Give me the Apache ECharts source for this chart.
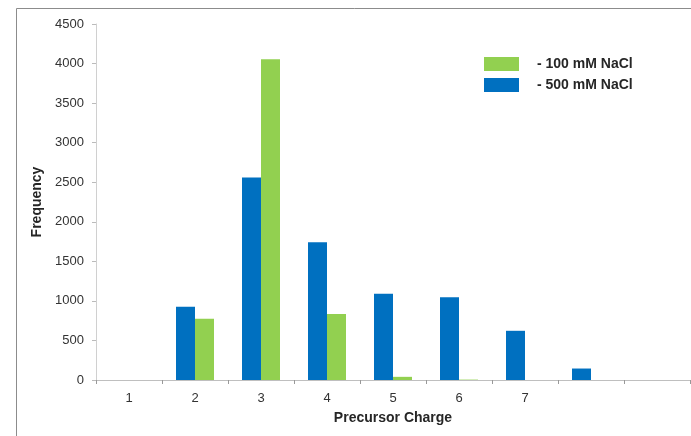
<!DOCTYPE html>
<html>
<head>
<meta charset="utf-8">
<script src="https://cdn.jsdelivr.net/npm/echarts@6/dist/echarts.min.js"></script>
<style>
  html, body { margin: 0; padding: 0; background: #fff; }
  #chart { width: 691px; height: 436px; }
</style>
</head>
<body>
<div id="chart"></div>
<script>
// Precursor charge states (last two slots have no printed label)
const chargeLabels = ['1', '2', '3', '4', '5', '6', '7', '', ''];
// Frequency counts per charge state
const nacl500 = [0, 925, 2560, 1740, 1090, 1045, 622, 145, 0];
const nacl100 = [0, 775, 4055, 835, 40, 5, 0, 0, 0];
const seriesNames = ['- 100 mM NaCl', '- 500 mM NaCl'];
const yTicks = { min: 0, max: 4500, interval: 500 };

const font = 'Liberation Sans, Arial, sans-serif';
const chart = echarts.init(document.getElementById('chart'), null, { renderer: 'canvas' });

chart.setOption({
  animation: false,
  backgroundColor: '#ffffff',
  graphic: [{
    type: 'rect',
    shape: { x: 16.5, y: 8.5, width: 700, height: 460 },
    style: { fill: 'none', stroke: '#8c8c8c', lineWidth: 1 },
    silent: true
  }],
  legend: {
    orient: 'vertical',
    left: 484,
    top: 57,
    padding: 0,
    itemWidth: 35,
    itemHeight: 14,
    itemGap: 7,
    icon: 'rect',
    selectedMode: false,
    data: seriesNames,
    textStyle: {
      fontFamily: font, fontSize: 14, fontWeight: 'bold', color: '#262626',
      lineHeight: 14, padding: [0, 0, 0, 13]
    }
  },
  grid: { left: 96, top: 24, right: 1, bottom: 56, containLabel: false },
  xAxis: {
    type: 'category',
    data: chargeLabels,
    name: 'Precursor Charge',
    nameLocation: 'middle',
    nameGap: 31,
    nameTextStyle: { fontFamily: font, fontSize: 14, fontWeight: 'bold', color: '#262626' },
    axisLine: { lineStyle: { color: '#bfbfbf', width: 1 } },
    axisTick: { show: true, length: 4, lineStyle: { color: '#999' } },
    axisLabel: { fontFamily: font, fontSize: 13, color: '#333', margin: 12 }
  },
  yAxis: {
    type: 'value',
    min: yTicks.min,
    max: yTicks.max,
    interval: yTicks.interval,
    name: 'Frequency',
    nameLocation: 'middle',
    nameGap: 49,
    nameTextStyle: { fontFamily: font, fontSize: 14, fontWeight: 'bold', color: '#262626' },
    axisLine: { show: true, lineStyle: { color: '#d0d0d0', width: 1 } },
    axisTick: { show: true, length: 4, lineStyle: { color: '#bbb' } },
    splitLine: { show: false },
    axisLabel: {
      fontFamily: font, fontSize: 13, color: '#333', margin: 12,
      formatter: v => String(v)
    }
  },
  series: [
    {
      name: seriesNames[1],
      type: 'bar',
      data: nacl500,
      barWidth: 19,
      barGap: '0%',
      itemStyle: { color: '#0070c0' }
    },
    {
      name: seriesNames[0],
      type: 'bar',
      data: nacl100,
      barWidth: 19,
      barGap: '0%',
      itemStyle: { color: '#92d050' }
    }
  ]
});
</script>
</body>
</html>
